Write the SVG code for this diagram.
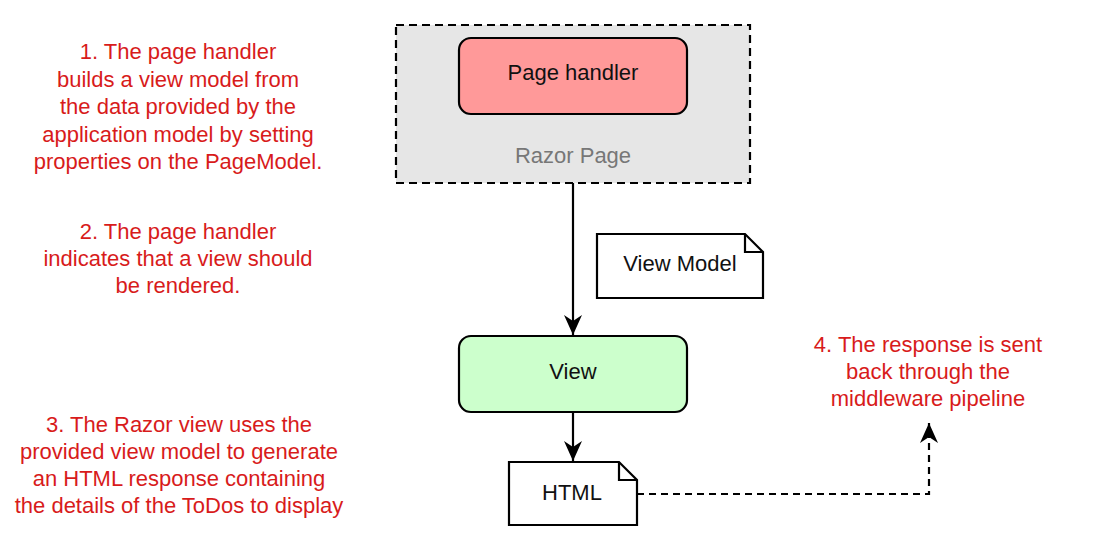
<svg xmlns="http://www.w3.org/2000/svg" width="1100" height="544" viewBox="0 0 1100 544">
<defs>
<marker id="arr" viewBox="0 0 22 22" refX="20" refY="11" markerWidth="22" markerHeight="22" markerUnits="userSpaceOnUse" orient="auto">
<path d="M0,2 L20,11 L0,20 L6,11 Z" fill="#000"/>
</marker>
<style>
text{font-family:"Liberation Sans",Arial,sans-serif;font-size:22px;text-anchor:middle}
.note{fill:#d81b1b}
.lbl{fill:#111}
.edge{fill:none;stroke:#000;stroke-width:2.2}
.box{stroke:#000;stroke-width:2.2}
</style>
</defs>
<rect width="1100" height="544" fill="#fff"/>
<g id="razor-page">
<rect x="396" y="25" width="354" height="158" fill="#e6e6e6" stroke="#000" stroke-width="2.2" stroke-dasharray="8 5"/>
<text x="573" y="163" fill="#777">Razor Page</text>
</g>
<g id="page-handler">
<rect class="box" x="459" y="38" width="228" height="76" rx="12" fill="#ff9999"/>
<text class="lbl" x="573" y="80">Page handler</text>
</g>
<g id="connectors">
<path class="edge" d="M573,183 V335" marker-end="url(#arr)"/>
<path class="edge" d="M573,412 V461" marker-end="url(#arr)"/>
<path class="edge" d="M637,494 H929 V423" stroke-dasharray="7 5" marker-end="url(#arr)"/>
</g>
<g id="view-model">
<path class="box" d="M597,234 H745 L763,252 V298 H597 Z" fill="#fff"/>
<path class="box" d="M745,234 V252 H763" fill="none"/>
<text class="lbl" x="680" y="271">View Model</text>
</g>
<g id="view">
<rect class="box" x="459" y="336" width="228" height="76" rx="12" fill="#ccffcc"/>
<text class="lbl" x="573" y="379">View</text>
</g>
<g id="html">
<path class="box" d="M509,462 H619 L637,480 V525 H509 Z" fill="#fff"/>
<path class="box" d="M619,462 V480 H637" fill="none"/>
<text class="lbl" x="572" y="500">HTML</text>
</g>
<g id="note1" class="note">
<text x="178" y="59">1. The page handler</text>
<text x="178" y="86.5">builds a view model from</text>
<text x="178" y="114">the data provided by the</text>
<text x="178" y="141.5">application model by setting</text>
<text x="178" y="169">properties on the PageModel.</text>
</g>
<g id="note2" class="note">
<text x="178" y="239">2. The page handler</text>
<text x="178" y="266">indicates that a view should</text>
<text x="178" y="293">be rendered.</text>
</g>
<g id="note3" class="note">
<text x="179" y="432">3. The Razor view uses the</text>
<text x="179" y="459">provided view model to generate</text>
<text x="179" y="486">an HTML response containing</text>
<text x="179" y="513">the details of the ToDos to display</text>
</g>
<g id="note4" class="note">
<text x="928" y="352">4. The response is sent</text>
<text x="928" y="379">back through the</text>
<text x="928" y="406">middleware pipeline</text>
</g>
</svg>
